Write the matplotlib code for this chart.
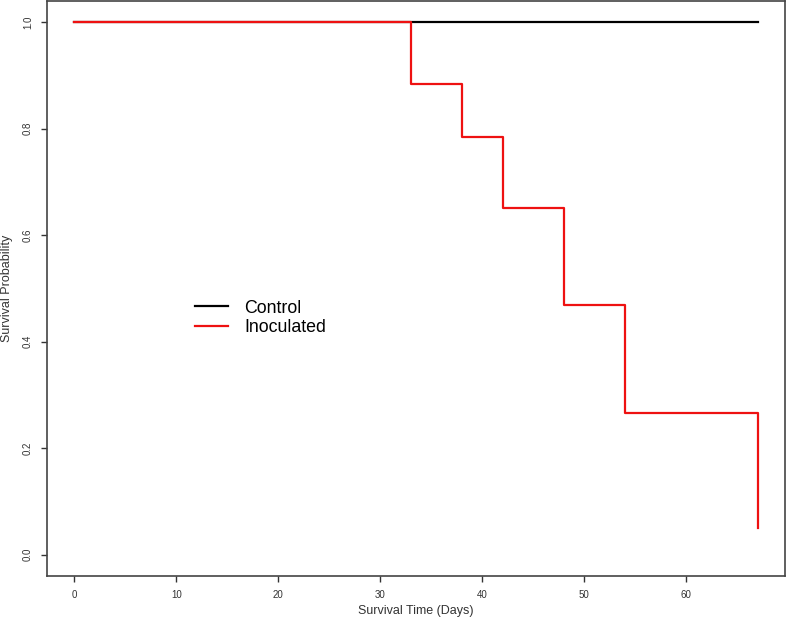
import numpy as np
import matplotlib
matplotlib.use("Agg")
import matplotlib.pyplot as plt

plt.rcParams['font.family'] = ['Liberation Sans', 'DejaVu Sans']

# Kaplan-Meier steps
control_t = [0, 67]
control_s = [1.0, 1.0]

inoc_t = [0, 33, 38, 42, 48, 54, 67]
inoc_s = [1.0, 0.884, 0.784, 0.652, 0.469, 0.267, 0.05]

xticks = [0, 10, 20, 30, 40, 50, 60]
yticks = [0.0, 0.2, 0.4, 0.6, 0.8, 1.0]

fig = plt.figure(figsize=(7.86, 6.24), dpi=100)
ax = fig.add_axes([47/786, 48/624, 738/786, 575/624])

ax.step(control_t, control_s, where='post', color='black', lw=1.6, label='Control')
ax.step(inoc_t, inoc_s, where='post', color='#ee1111', lw=1.6, label='Inoculated')

ax.set_xlim(-2.68, 69.68)
ax.set_ylim(-0.04, 1.04)
ax.set_xticks(xticks)
ax.set_yticks(yticks)
ax.set_xticklabels([str(t) for t in xticks], fontsize=7, color='#333333')
ax.set_yticklabels(['%.1f' % t for t in yticks], fontsize=7, color='#333333',
                   rotation=90, va='center')
ax.tick_params(direction='out', length=4, width=1, colors='#333333', pad=6)
for sp in ax.spines.values():
    sp.set_color('#444444')
    sp.set_linewidth(1.2)

ax.set_xlabel('Survival Time (Days)', fontsize=9, color='#333333', labelpad=4)
ax.set_ylabel('Survival Probability', fontsize=9, color='#333333', labelpad=7)

ax.legend(loc='center left', bbox_to_anchor=(179/786, 1 - 318/624),
          bbox_transform=fig.transFigure, frameon=False, fontsize=12.8,
          handlelength=1.85, handletextpad=0.9, labelspacing=0.15)

fig.savefig('out.png', dpi=100)
